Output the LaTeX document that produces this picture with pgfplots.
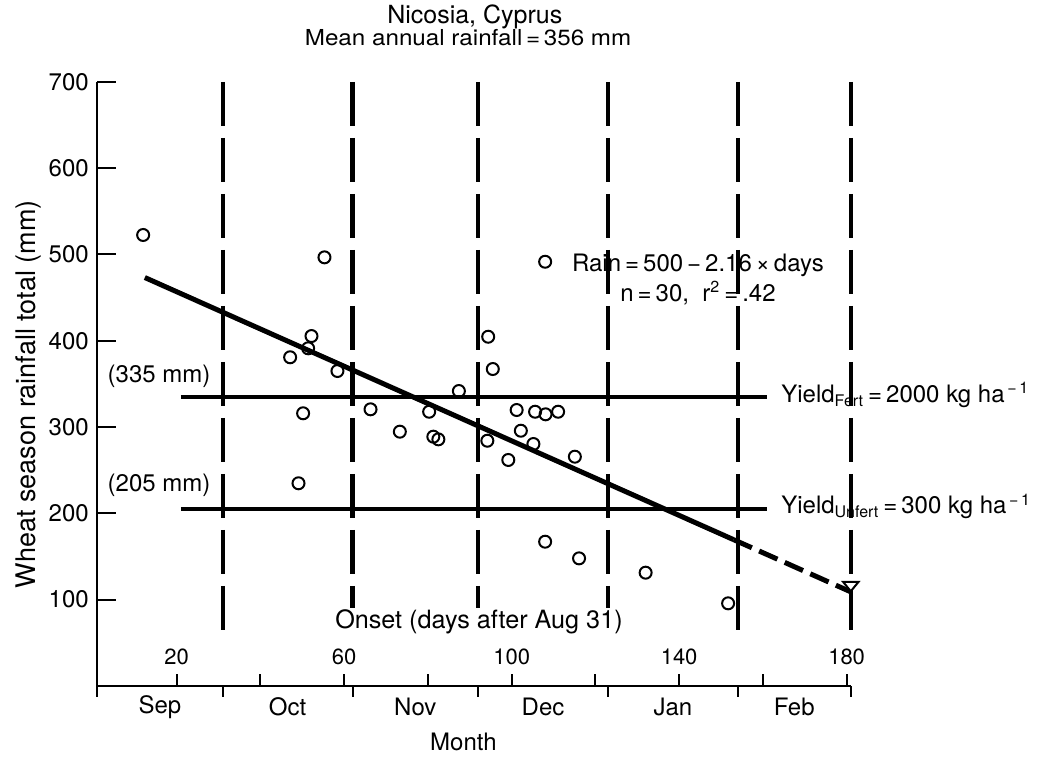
\documentclass[border=0pt]{standalone}
\usepackage{pgfplots}
\pgfplotsset{compat=1.18}
\usepackage{fontspec}
\setmainfont{TeX Gyre Heros}

% observed onset date (days after Aug 31) and wheat season rainfall (mm)
\pgfplotstableread{
day   rain
12.0  522.5
55.3  496.6
52.2  405.4
51.4  391.2
47.1  380.8
58.4  364.9
50.2  315.9
66.3  320.5
49.1  234.8
108.0 491.5
94.4  404.6
95.5  367.2
87.4  341.7
80.3  317.7
73.3  294.6
81.3  288.8
82.5  285.7
101.2 319.7
105.6 317.7
108.1 314.7
111.1 317.7
102.2 295.7
94.2  284.1
105.2 280.3
99.2  261.8
115.1 265.6
108.0 167.1
116.1 147.8
132.0 131.2
151.7 95.7
}\rainobs

\begin{document}
\fontsize{12}{14}\selectfont
\begin{tikzpicture}
\begin{axis}[
  at={(0,0)}, anchor=south west,
  scale only axis, width=376.85pt, height=302.05pt,
  xmin=1, xmax=181, ymin=0, ymax=700,
  clip=false,
  axis lines*=left,
  axis line style={line width=1pt},
  tick style={black, line width=1pt},
  tick align=inside,
  major tick length=9.5pt,
  minor tick length=6pt,
  ytick={100,200,...,700},
  xtick={20,60,100,140,180},
  minor xtick={20,40,...,180},
  major x tick style={draw=none},
  extra x ticks={1,31,62,92,123,154,181},
  extra x tick labels={},
  extra x tick style={tick align=outside, major tick length=5.5pt, major x tick style={draw=black}},
  xticklabel style={anchor=center, yshift=14.6pt, font=\fontsize{11}{13}\selectfont},
  yticklabel style={font=\fontsize{12}{14}\selectfont},
  /pgf/number format/assume math mode=true,
]
% month boundaries
\foreach \d in {31,62,92,123,154,181}{
  \edef\tmp{\noexpand\addplot[line width=2.2pt, dash pattern=on 22pt off 6pt] coordinates {(\d,700) (\d,53)};}
  \tmp
}
% rainfall thresholds
\addplot[line width=2pt] coordinates {(21,335) (161,335)};
\addplot[line width=2pt] coordinates {(21,205) (161,205)};
% regression line, Rain = 500 - 2.16 x days
\addplot[line width=2.5pt] coordinates {(12.4,473.2) (153,169.5)};
\addplot[line width=2.5pt, dash pattern=on 10pt off 4pt] coordinates {(153,169.5) (181,109.0)};
% observations
\addplot[only marks, mark=o, mark size=3pt, mark options={line width=1pt}] table[x=day, y=rain] {\rainobs};
% extrapolated end point
\addplot[only marks, mark=triangle*, mark size=4.5pt, mark options={rotate=180, yscale=0.7, fill=white, draw=black, line width=1pt}] coordinates {(181,117)};

% titles and annotations
\node[anchor=base, font=\fontsize{12.5}{14}\selectfont] at (axis cs:91.2,767) {Nicosia, Cyprus};
\node[anchor=base, font={\fontsize{11}{13}\selectfont\addfontfeature{FakeStretch=1.1}}] at (axis cs:89.6,742.6) {Mean annual rainfall\,=\,356 mm};
\node[rotate=90, font=\fontsize{13.5}{15}\selectfont] at (axis cs:-15.3,338) {Wheat season rainfall total (mm)};
\node at (axis cs:15.8,359) {(335 mm)};
\node at (axis cs:15.8,232.8) {(205 mm)};
\node[anchor=west] at (axis cs:162.4,337) {Yield\textsubscript{Fert}\,=\,2000 kg ha\textsuperscript{\,−\,1}};
\node[anchor=west] at (axis cs:162.4,208) {Yield\textsubscript{Unfert}\,=\,300 kg ha\textsuperscript{\,−\,1}};
\node at (axis cs:144.5,487.7) {Rain\,=\,500\,−\,2.16\,×\,days};
\node at (axis cs:144.5,455) {n\,=\,30,\ \ r\textsuperscript{2}\,=\,.42};
\node[fill=white, inner sep=1pt, font=\fontsize{12.6}{14}\selectfont] at (axis cs:92.2,74.4) {Onset (days after Aug 31)};
% month names between the boundaries
\node at (axis cs:16,-24.1) {Sep};
\node at (axis cs:46.5,-24.1) {Oct};
\node at (axis cs:77,-24.1) {Nov};
\node at (axis cs:107.5,-24.1) {Dec};
\node at (axis cs:138.5,-24.1) {Jan};
\node at (axis cs:167.5,-24.1) {Feb};
\node at (axis cs:88.5,-64.7) {Month};
\end{axis}
\pgfresetboundingbox
\path[use as bounding box] (-48.55pt,-35.05pt) rectangle (482.95pt,342.95pt);
\end{tikzpicture}
\end{document}
